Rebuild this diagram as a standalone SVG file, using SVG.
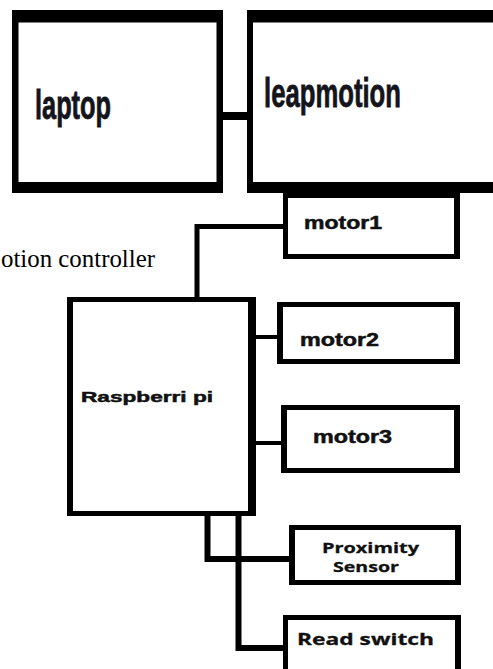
<svg xmlns="http://www.w3.org/2000/svg" width="493" height="669" viewBox="0 0 493 669">
<style>
.bg{fill:#fff}
.frame{fill:#000}
.inner{fill:#fff}
.big{font-family:"Liberation Sans",Arial,sans-serif;font-weight:bold;fill:#14141c;stroke:#14141c;stroke-width:0.8}
.mid{font-family:"Liberation Sans",Arial,sans-serif;font-weight:bold;fill:#111;stroke:#111;stroke-width:0.5}
.cal{font-family:"Open Sans","Liberation Sans",sans-serif;font-weight:bold;fill:#111;stroke:#111;stroke-width:0.3}
.serif{font-family:"Liberation Serif","Times New Roman",serif;fill:#000}
.wire{fill:none;stroke:#000;stroke-linecap:square;stroke-linejoin:miter}
</style>
<rect class="bg" x="0" y="0" width="493" height="669"/>
<g id="connectors">
  <rect class="frame" x="222" y="112" width="26" height="8"/>
  <path class="wire" d="M197,297 V226.5 H284" stroke-width="5"/>
  <path class="wire" d="M255,337 H278" stroke-width="4"/>
  <path class="wire" d="M255,443 H282" stroke-width="4"/>
  <path class="wire" d="M207.5,516 V559 H290" stroke-width="6"/>
  <path class="wire" d="M238.5,516 V648 H284" stroke-width="6"/>
</g>
<g id="laptop">
  <rect class="frame" x="12" y="10" width="211" height="183"/>
  <rect class="inner" x="18.5" y="22.5" width="198" height="159.5"/>
  <text class="big" x="35" y="119" font-size="40" textLength="76" lengthAdjust="spacingAndGlyphs">laptop</text>
</g>
<g id="leapmotion">
  <rect class="frame" x="247" y="10" width="260" height="183"/>
  <rect class="inner" x="253" y="22.5" width="260" height="159.5"/>
  <text class="big" x="264" y="107" font-size="41" textLength="137" lengthAdjust="spacingAndGlyphs">leapmotion</text>
</g>
<g id="caption">
  <text class="serif" x="1" y="267" font-size="25" textLength="154" lengthAdjust="spacingAndGlyphs">otion controller</text>
</g>
<g id="motor1">
  <rect class="frame" x="283" y="193" width="177" height="66"/>
  <rect class="inner" x="288" y="198" width="166" height="56"/>
  <text class="mid" x="304" y="229" font-size="18" textLength="78" lengthAdjust="spacingAndGlyphs">motor1</text>
</g>
<g id="raspberri-pi">
  <rect class="frame" x="67" y="297" width="189" height="219"/>
  <rect class="inner" x="73" y="302" width="175" height="209"/>
  <text class="mid" x="81" y="402" font-size="15" textLength="132" lengthAdjust="spacingAndGlyphs">Raspberri pi</text>
</g>
<g id="motor2">
  <rect class="frame" x="277" y="302" width="183" height="62"/>
  <rect class="inner" x="283" y="307" width="171" height="52"/>
  <text class="mid" x="300" y="346" font-size="18" textLength="79" lengthAdjust="spacingAndGlyphs">motor2</text>
</g>
<g id="motor3">
  <rect class="frame" x="281" y="405" width="179" height="68"/>
  <rect class="inner" x="287" y="410" width="167" height="58"/>
  <text class="mid" x="313" y="443" font-size="18" textLength="79" lengthAdjust="spacingAndGlyphs">motor3</text>
</g>
<g id="proximity-sensor">
  <rect class="frame" x="289" y="525" width="172" height="60"/>
  <rect class="inner" x="295" y="530" width="160" height="50"/>
  <text class="cal" x="322" y="553" font-size="15" textLength="97" lengthAdjust="spacingAndGlyphs">Proximity</text>
  <text class="cal" x="333" y="572" font-size="15" textLength="66" lengthAdjust="spacingAndGlyphs">Sensor</text>
</g>
<g id="read-switch">
  <rect class="frame" x="283" y="615" width="178" height="70"/>
  <rect class="inner" x="288" y="620" width="167" height="70"/>
  <text class="cal" x="297" y="645" font-size="16" textLength="137" lengthAdjust="spacingAndGlyphs">Read switch</text>
</g>
</svg>
